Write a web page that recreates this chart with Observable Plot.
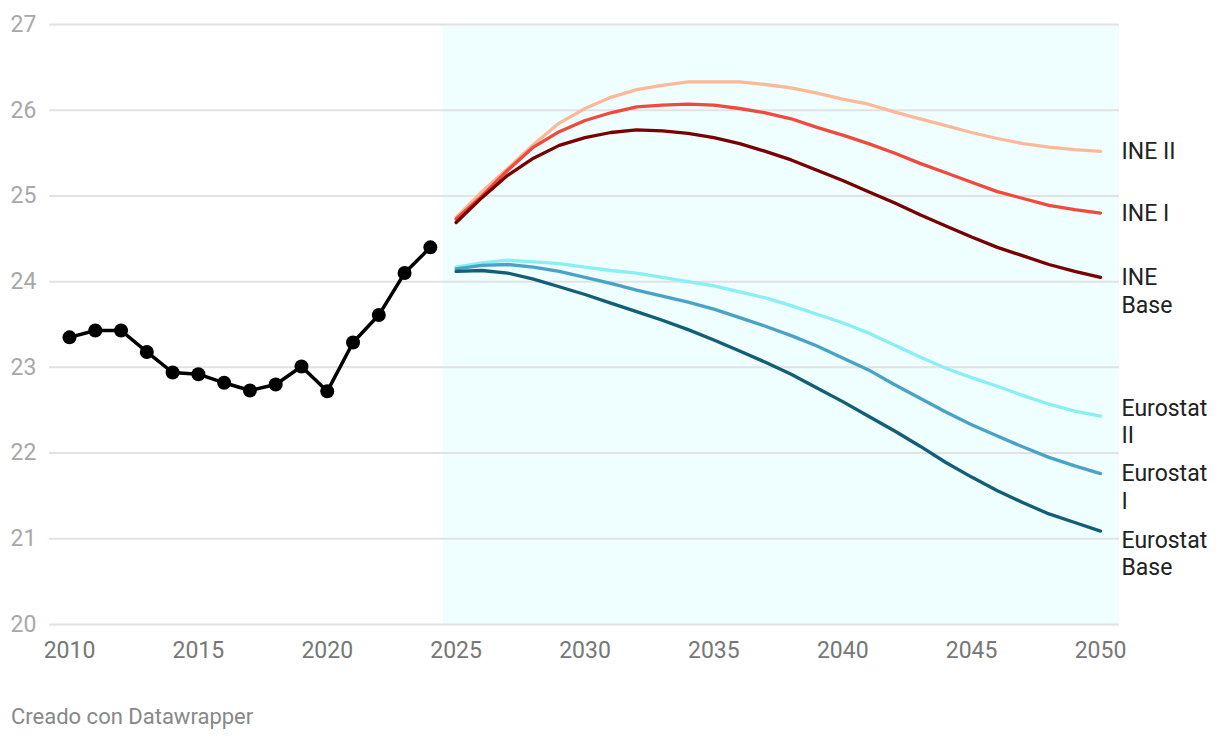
<!DOCTYPE html>
<html><head><meta charset="utf-8">
<script src="https://cdn.jsdelivr.net/npm/d3@7"></script>
<script src="https://cdn.jsdelivr.net/npm/@observablehq/plot@0.6"></script>
<style>
body{margin:0;background:#fff;font-family:Roboto,sans-serif;}
#chart{position:absolute;left:0;top:0;}
#credit{position:absolute;left:11px;top:704px;font-size:22px;color:#888;font-family:Roboto,sans-serif;white-space:nowrap;}
</style></head><body>
<div id="chart"></div>
<div id="credit">Creado con Datawrapper</div>
<script>
const histYears = [2010,2011,2012,2013,2014,2015,2016,2017,2018,2019,2020,2021,2022,2023,2024];
const histValues = [23.35,23.43,23.43,23.18,22.94,22.92,22.82,22.73,22.80,23.01,22.72,23.29,23.61,24.10,24.40];

const projYears = [2025,2026,2027,2028,2029,2030,2031,2032,2033,2034,2035,2036,2037,2038,2039,2040,2041,2042,2043,2044,2045,2046,2047,2048,2049,2050];
const ineII   = [24.75,25.05,25.32,25.60,25.85,26.02,26.15,26.24,26.29,26.33,26.33,26.33,26.30,26.26,26.20,26.13,26.07,25.98,25.90,25.82,25.74,25.67,25.61,25.57,25.54,25.52];
const ineI    = [24.73,25.00,25.30,25.57,25.75,25.88,25.97,26.04,26.06,26.07,26.06,26.02,25.97,25.90,25.80,25.71,25.61,25.50,25.38,25.27,25.16,25.05,24.97,24.89,24.84,24.80];
const ineBase = [24.69,24.98,25.24,25.44,25.59,25.68,25.74,25.77,25.76,25.73,25.68,25.61,25.52,25.42,25.30,25.18,25.05,24.92,24.78,24.65,24.52,24.40,24.30,24.20,24.12,24.05];
const euroII  = [24.17,24.22,24.25,24.23,24.21,24.17,24.13,24.10,24.05,24.00,23.95,23.88,23.81,23.72,23.62,23.52,23.40,23.26,23.12,22.99,22.88,22.78,22.67,22.57,22.49,22.43];
const euroI   = [24.15,24.19,24.20,24.17,24.12,24.05,23.98,23.90,23.83,23.76,23.68,23.58,23.48,23.37,23.25,23.11,22.97,22.80,22.64,22.48,22.33,22.20,22.07,21.95,21.85,21.76];
const euroBase= [24.12,24.13,24.10,24.03,23.94,23.85,23.75,23.65,23.55,23.44,23.32,23.19,23.06,22.92,22.76,22.60,22.43,22.26,22.08,21.89,21.72,21.56,21.42,21.29,21.19,21.09];

const seriesNames  = ["INE II","INE I","INE Base","Eurostat II","Eurostat I","Eurostat Base"];
const seriesLabels = ["INE II","INE I","INE\nBase","Eurostat\nII","Eurostat\nI","Eurostat\nBase"];
const seriesValues = [ineII, ineI, ineBase, euroII, euroI, euroBase];
const seriesColors = ["#fdb89a","#ef4a3c","#780000","#8aeff4","#4aa2c6","#135e77"];

const yTicks = [20,21,22,23,24,25,26,27];
const xTicks = [2010,2015,2020,2025,2030,2035,2040,2045,2050];
const projectionStart = 2024.5;

// build tables
const hist = histYears.map((y,i)=>({year:y, value:histValues[i]}));
const proj = [];
seriesNames.forEach((name,si)=>{
  projYears.forEach((y,i)=>proj.push({series:name, year:y, value:seriesValues[si][i]}));
});
const ends = seriesNames.map((name,si)=>({series:name, label:seriesLabels[si], year:projYears[projYears.length-1], value:seriesValues[si][seriesValues[si].length-1]}));

// label nudges (pixels) to avoid overlap, as in the reference
const nudge = {"Eurostat II": -8, "Eurostat Base": 9};

const xMin = 2009.224, xMax = 2050.737;

const labelMarks = ends.map(d => Plot.text([d], {
  x:"year", y:"value", text:"label", dx:21, dy:-12 + (nudge[d.series]||0),
  textAnchor:"start", lineAnchor:"top", lineHeight:1.2, fontSize:23, fill:"#222"
}));

const chart = Plot.plot({
  width:1220, height:680,
  marginTop:24, marginBottom:56, marginLeft:49, marginRight:101,
  style:{fontFamily:"Roboto, sans-serif", fontSize:"23px", background:"transparent", overflow:"visible"},
  x:{domain:[xMin,xMax]},
  y:{domain:[20,27]},
  color:{domain:seriesNames, range:seriesColors},
  marks:[
    Plot.rect([{x1:projectionStart, x2:xMax}], {x1:"x1", x2:"x2", y1:20, y2:27, fill:"#effeff"}),
    Plot.gridY(yTicks, {stroke:"#e2e2e2", strokeOpacity:1, strokeWidth:2}),
    Plot.axisY(yTicks, {tickSize:0, tickPadding:39, textAnchor:"start", fontSize:23, fill:"#a8a8a8", tickFormat:d=>String(d), label:null}),
    Plot.axisX(xTicks, {tickSize:0, tickPadding:17, fontSize:23, fill:"#777", tickFormat:d=>String(d), label:null}),
    Plot.line(proj, {x:"year", y:"value", z:"series", stroke:"series", strokeWidth:3.3}),
    Plot.line(hist, {x:"year", y:"value", stroke:"#000", strokeWidth:3.5}),
    Plot.dot(hist, {x:"year", y:"value", r:7, fill:"#000"}),
    ...labelMarks
  ]
});
document.getElementById("chart").appendChild(chart);
</script>
</body></html>
